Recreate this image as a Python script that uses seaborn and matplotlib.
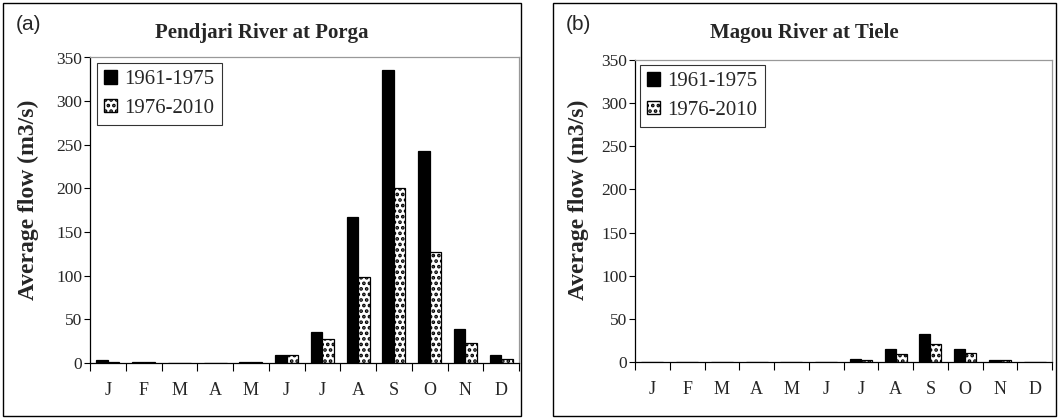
# Average monthly flow, two stations, two periods
import pandas as pd
import numpy as np
import seaborn as sns
import matplotlib.pyplot as plt
from matplotlib.patches import Rectangle, Patch

months = ["Jan", "Feb", "Mar", "Apr", "May", "Jun", "Jul", "Aug", "Sep", "Oct", "Nov", "Dec"]
month_labels = ["J", "F", "M", "A", "M", "J", "J", "A", "S", "O", "N", "D"]
periods = ["1961-1975", "1976-2010"]

porga_early = [3.4, 1.5, 0.3, 0.3, 1.5, 9, 35, 167, 336, 243, 38.5, 9]
porga_late = [1.5, 1.5, 0.3, 0.3, 1.5, 9, 27.5, 99, 201, 127, 23, 4.5]
tiele_early = [0, 0, 0, 0, 0, 0, 3, 15, 32, 15, 2.3, 0]
tiele_late = [0, 0, 0, 0, 0, 0, 2.5, 9.6, 21, 10, 2, 0]

sns.set_theme(style="white")
plt.rcParams["font.family"] = ["Liberation Serif", "DejaVu Serif"]
plt.rcParams["hatch.linewidth"] = 1.8

W, H = 1059, 419
fig = plt.figure(figsize=(W / 100, H / 100), dpi=100)


def px(x0, y0, x1, y1):
    # pixel box (top-left origin) -> figure fraction rect
    return [x0 / W, 1 - y1 / H, (x1 - x0) / W, (y1 - y0) / H]


def panel(early, late, axbox, boxpx, title, tag, legbox):
    df = pd.DataFrame({
        "month": months * 2,
        "flow": early + late,
        "period": [periods[0]] * 12 + [periods[1]] * 12,
    })
    ax = fig.add_axes(px(*axbox))
    sns.barplot(data=df, x="month", y="flow", hue="period", order=months,
                hue_order=periods, palette=["black", "white"], width=0.64,
                edgecolor="black", linewidth=0.9, ax=ax, legend=False)
    for bar in ax.containers[1]:
        bar.set_hatch("...")
    ax.set_xlim(-0.5, 11.5)
    ax.set_ylim(0, 350)
    ax.set_yticks(np.arange(0, 351, 50))
    ax.set_xticks(np.arange(-0.5, 12, 1))
    ax.set_xticklabels([])
    ax.set_xticks(np.arange(12), minor=True)
    ax.set_xticklabels(month_labels, minor=True, fontsize=13)
    ax.tick_params(axis="x", which="major", direction="out", length=5.5, width=0.8,
                   color="black", bottom=True)
    ax.tick_params(axis="x", which="minor", length=0, pad=14)
    ax.tick_params(axis="y", direction="out", length=4, width=0.8, color="black",
                   left=True, labelsize=12.5, pad=1.5)
    ax.set_xlabel("")
    ax.set_ylabel("")
    for s in ["left", "bottom"]:
        ax.spines[s].set_color("black")
        ax.spines[s].set_linewidth(0.9)
    for s in ["top", "right"]:
        ax.spines[s].set_color("#999999")
        ax.spines[s].set_linewidth(0.9)

    handles = [Patch(facecolor="black", edgecolor="black", label=periods[0]),
               Patch(facecolor="white", edgecolor="black", hatch="...", label=periods[1])]
    lx0, ly0, lx1, ly1 = legbox
    leg = ax.legend(handles=handles, loc="upper left",
                    bbox_to_anchor=((lx0 - axbox[0]) / (axbox[2] - axbox[0]),
                                    1 - (ly0 - axbox[1]) / (axbox[3] - axbox[1])),
                    fontsize=15, frameon=True, fancybox=False, edgecolor="black",
                    handlelength=0.6, handleheight=0.6, handletextpad=0.35,
                    borderpad=0.35, labelspacing=0.45, borderaxespad=0)
    leg.get_frame().set_linewidth(0.8)

    bx0, by0, bx1, by1 = boxpx
    fig.add_artist(Rectangle((bx0 / W, 1 - by1 / H), (bx1 - bx0) / W, (by1 - by0) / H,
                             transform=fig.transFigure, fill=False,
                             edgecolor="black", linewidth=1.0))
    fig.text(((bx0 + bx1) / 2) / W, 1 - 33 / H, title, ha="center", va="center",
             fontsize=15, fontweight="bold")
    fig.text((bx0 + 13) / W, 1 - 25 / H, tag, ha="left", va="center",
             fontsize=15, family=["Liberation Sans", "DejaVu Sans"])
    fig.text((bx0 + 25) / W, 1 - 200 / H, "Average flow (m3/s)", rotation=90,
             ha="center", va="center", fontsize=17, fontweight="bold")
    return ax


panel(porga_early, porga_late, (90, 57.5, 519, 363), (3, 3, 521, 416),
      "Pendjari River at Porga", "(a)", (97, 63, 223, 128))
panel(tiele_early, tiele_late, (635, 60, 1052, 362), (553, 3, 1056, 416),
      "Magou River at Tiele", "(b)", (640, 65, 765, 130))

plt.savefig("out.png", dpi=100)
